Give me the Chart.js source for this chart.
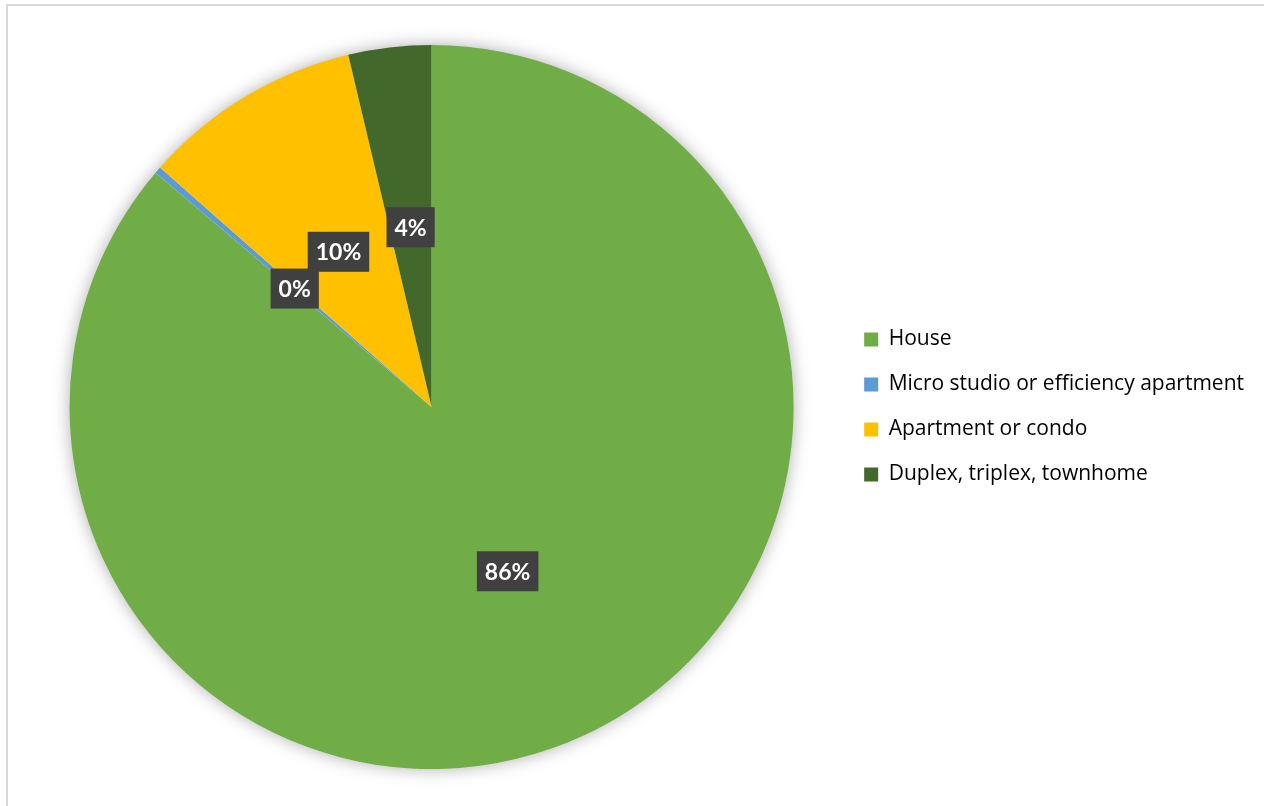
<!DOCTYPE html>
<html>
<head>
<meta charset="utf-8">
<script src="https://cdn.jsdelivr.net/npm/chart.js@4.4.1/dist/chart.umd.min.js"></script>
<style>
  html, body { margin: 0; padding: 0; background: #fff; overflow: hidden; }
  #frame { position: absolute; left: 6px; top: 4px; width: 1400px; height: 900px; border: 2px solid #d9d9d9; }
  #pie { position: absolute; left: 0; top: 0; }
</style>
</head>
<body>
<div id="frame"></div>
<canvas id="pie" width="1264" height="806"></canvas>
<script>
// housing types, share of respondents (%)
const housingTypes = ['House', 'Micro studio or efficiency apartment', 'Apartment or condo', 'Duplex, triplex, townhome'];
const shares = [86.2, 0.3, 9.8, 3.7];
const sliceColors = ['#70AD47', '#5B9BD5', '#FFC000', '#43682B'];

// soft shadow under the whole pie
const pieShadow = {
    id: 'pieShadow',
    beforeDatasetsDraw(chart) {
        const arc = chart.getDatasetMeta(0).data[0];
        if (!arc) return;
        const ctx = chart.ctx;
        ctx.save();
        ctx.shadowColor = 'rgba(0, 0, 0, 0.35)';
        ctx.shadowBlur = 18;
        ctx.fillStyle = '#fff';
        ctx.beginPath();
        ctx.arc(arc.x, arc.y, arc.outerRadius - 1, 0, Math.PI * 2);
        ctx.fill();
        ctx.restore();
    }
};

// dark boxed percentage labels in the middle of each slice
const valueLabels = {
    id: 'valueLabels',
    afterDatasetsDraw(chart) {
        const ctx = chart.ctx;
        const meta = chart.getDatasetMeta(0);
        const total = shares.reduce((a, b) => a + b, 0);
        ctx.save();
        ctx.font = 'bold 23px Lato';
        ctx.textAlign = 'center';
        ctx.textBaseline = 'middle';
        meta.data.forEach((arc, i) => {
            const p = arc.tooltipPosition();
            const text = Math.round(shares[i] / total * 100) + '%';
            const w = ctx.measureText(text).width + 16;
            const h = 40;
            ctx.fillStyle = '#404040';
            ctx.fillRect(p.x - w / 2, p.y - h / 2, w, h);
            ctx.fillStyle = '#fff';
            ctx.fillText(text, p.x, p.y + 1);
        });
        ctx.restore();
    }
};

const pieChart = new Chart(document.getElementById('pie').getContext('2d'), {
    type: 'pie',
    data: {
        labels: housingTypes,
        datasets: [{
            data: shares,
            backgroundColor: sliceColors,
            borderWidth: 0
        }]
    },
    options: {
        responsive: false,
        animation: false,
        layout: { padding: { top: 45, bottom: 37, left: 23, right: 10 } },
        plugins: {
            tooltip: { enabled: false },
            legend: {
                position: 'right',
                labels: {
                    boxWidth: 14,
                    boxHeight: 14,
                    padding: 24,
                    color: '#000',
                    font: { family: 'Open Sans', size: 21 }
                }
            }
        }
    },
    plugins: [pieShadow, valueLabels]
});
</script>
</body>
</html>
